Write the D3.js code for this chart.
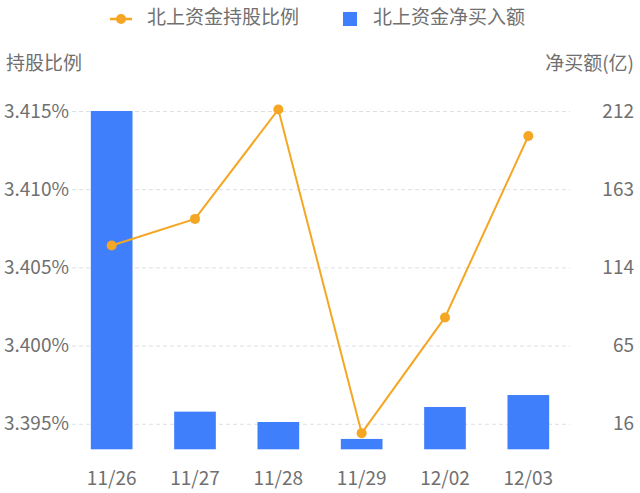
<!DOCTYPE html>
<html>
<head>
<meta charset="utf-8">
<script src="https://cdn.jsdelivr.net/npm/d3@7"></script>
<style>
  body { margin: 0; background: #fff; }
  svg text { font-family: "Noto Sans CJK SC", "Noto Sans", sans-serif; fill: #707070; }
</style>
</head>
<body>
<svg id="chart"></svg>
<script>
const dates = ['11/26', '11/27', '11/28', '11/29', '12/02', '12/03'];
const ratio = [3.4064, 3.4081, 3.4151, 3.3944, 3.4018, 3.4134];
const netBuy = [212, 23.6, 17.1, 6.5, 26.5, 34.0];
const leftTicks = [3.395, 3.400, 3.405, 3.410, 3.415];
const rightTicks = [16, 65, 114, 163, 212];

const W = 640, H = 493;
const orange = '#f5a623', blue = '#3f7ffc';
const fs = 19;

const svg = d3.select('#chart').attr('width', W).attr('height', H);

const x = d3.scaleBand().domain(dates).range([70, 570]);
// right axis: 0 at plot bottom
const yR = d3.scaleLinear().domain([0, 212]).range([449.3, 111]);
const yL = d3.scaleLinear().domain([3.395, 3.415]).range([yR(16), 111]);

// grid
svg.append('g')
  .attr('transform', 'translate(72,0)')
  .call(d3.axisLeft(yL).tickValues(leftTicks).tickSize(-498).tickFormat(''))
  .call(g => g.select('.domain').remove())
  .call(g => g.selectAll('line').attr('stroke', '#dcdfe6').attr('stroke-dasharray', '4,3'));

// bars
svg.selectAll('.bar')
  .data(netBuy)
  .enter()
  .append('rect')
  .attr('class', 'bar')
  .attr('x', (d, i) => x(dates[i]) + x.bandwidth() / 4)
  .attr('width', x.bandwidth() / 2)
  .attr('y', d => yR(d))
  .attr('height', d => yR(0) - yR(d))
  .attr('fill', blue);

// line
const cx = (d, i) => x(dates[i]) + x.bandwidth() / 2;
svg.append('path')
  .datum(ratio)
  .attr('fill', 'none')
  .attr('stroke', orange)
  .attr('stroke-width', 2)
  .attr('d', d3.line().x(cx).y(d => yL(d)));

svg.selectAll('.dot')
  .data(ratio)
  .enter()
  .append('circle')
  .attr('cx', cx)
  .attr('cy', d => yL(d))
  .attr('r', 5)
  .attr('fill', orange);

// left axis
svg.append('g')
  .attr('transform', 'translate(4,0)')
  .call(d3.axisRight(yL).tickValues(leftTicks).tickSize(0).tickPadding(0)
    .tickFormat(d => d.toFixed(3) + '%'))
  .call(g => g.select('.domain').remove())
  .call(g => g.selectAll('text').attr('font-size', fs).attr('fill', '#707070'));

// right axis
svg.append('g')
  .attr('transform', 'translate(634,0)')
  .call(d3.axisLeft(yR).tickValues(rightTicks).tickSize(0).tickPadding(0))
  .call(g => g.select('.domain').remove())
  .call(g => g.selectAll('text').attr('font-size', fs).attr('fill', '#707070'));

// x axis
svg.append('g')
  .attr('transform', 'translate(0,465)')
  .call(d3.axisBottom(x).tickSize(0).tickPadding(6))
  .call(g => g.select('.domain').remove())
  .call(g => g.selectAll('text').attr('font-size', fs).attr('fill', '#707070'));

// axis names
svg.append('text')
  .attr('x', 6).attr('y', 65)
  .attr('dominant-baseline', 'middle')
  .attr('font-size', fs)
  .text('持股比例');

svg.append('text')
  .attr('x', 634).attr('y', 65)
  .attr('text-anchor', 'end')
  .attr('dominant-baseline', 'middle')
  .attr('font-size', fs)
  .text('净买额(亿)');

// legend
const lg = svg.append('g');
lg.append('line')
  .attr('x1', 110).attr('x2', 132).attr('y1', 19).attr('y2', 19)
  .attr('stroke', orange).attr('stroke-width', 2.5);
lg.append('circle').attr('cx', 121).attr('cy', 19).attr('r', 5).attr('fill', orange);
lg.append('text')
  .attr('x', 147).attr('y', 19)
  .attr('dominant-baseline', 'middle')
  .attr('font-size', fs)
  .text('北上资金持股比例');
lg.append('rect')
  .attr('x', 343).attr('y', 12).attr('width', 14).attr('height', 14)
  .attr('fill', blue);
lg.append('text')
  .attr('x', 373).attr('y', 19)
  .attr('dominant-baseline', 'middle')
  .attr('font-size', fs)
  .text('北上资金净买入额');
</script>
</body>
</html>
